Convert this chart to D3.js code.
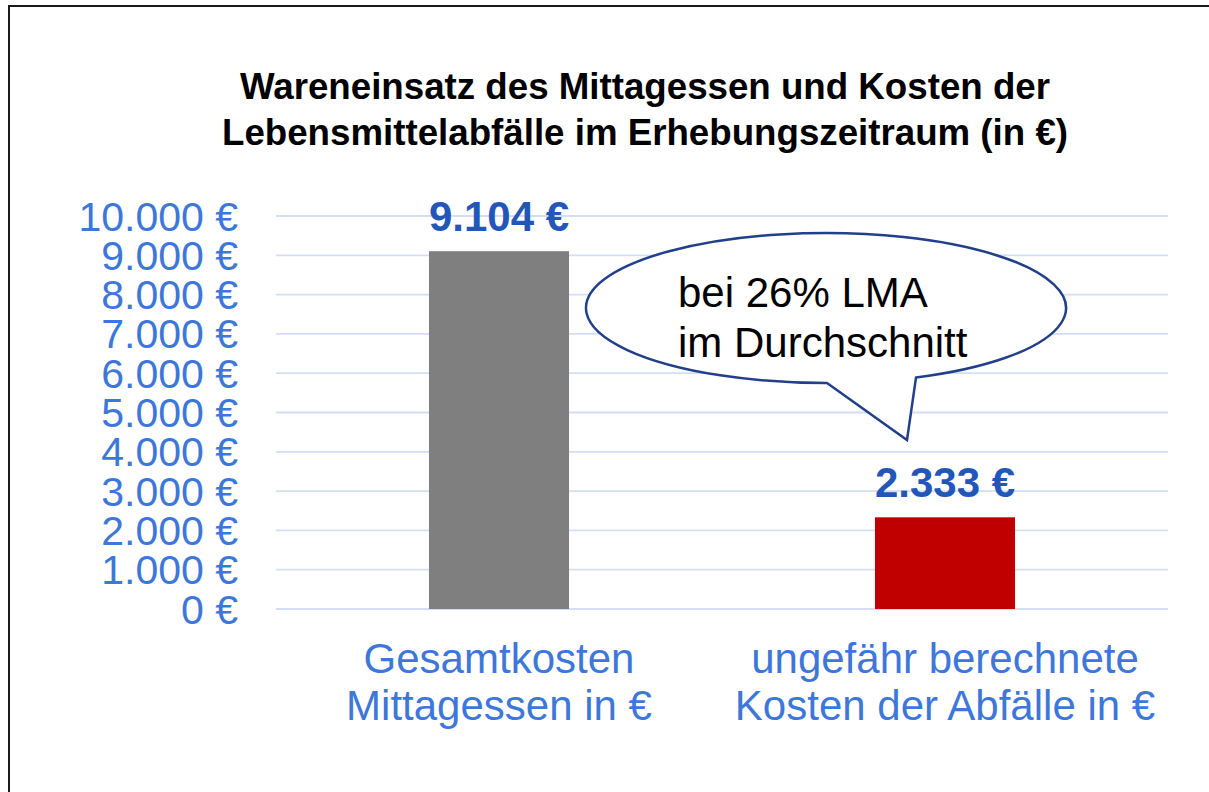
<!DOCTYPE html>
<html>
<head>
<meta charset="utf-8">
<script src="https://cdn.jsdelivr.net/npm/d3@7"></script>
<style>
  body { margin: 0; background: #fff; }
  text { font-family: "Liberation Sans", Arial, sans-serif; }
</style>
</head>
<body>
<div id="chart"></div>
<script>
// data
const categories = ["Gesamtkosten Mittagessen in €", "ungefähr berechnete Kosten der Abfälle in €"];
const categoryLines = [["Gesamtkosten", "Mittagessen in €"], ["ungefähr berechnete", "Kosten der Abfälle in €"]];
const values = [9104, 2333];
const barColors = ["#7f7f7f", "#c00000"];
const yTicks = [0, 1000, 2000, 3000, 4000, 5000, 6000, 7000, 8000, 9000, 10000];
const titleLines = ["Wareneinsatz des Mittagessen und Kosten der", "Lebensmittelabfälle im Erhebungszeitraum (in €)"];
const calloutLines = ["bei 26% LMA", "im Durchschnitt"];

const width = 1209, height = 792;
const svg = d3.select("#chart").append("svg")
  .attr("width", width)
  .attr("height", height);

// frame around the chart
svg.append("rect")
  .attr("x", 9).attr("y", 6)
  .attr("width", 1300).attr("height", 900)
  .attr("fill", "none")
  .attr("stroke", "#1a1a1a")
  .attr("stroke-width", 2);

// scales
const x = d3.scaleBand().domain(categories).range([276, 1168]).padding(0);
const y = d3.scaleLinear().domain([0, 10000]).range([609, 216]);
const barW = x.bandwidth() * 0.314;

const fmt = v => d3.format(",")(v).replace(/,/g, ".") + " €";

// gridlines
svg.append("g")
  .selectAll("line")
  .data(yTicks)
  .join("line")
  .attr("x1", 276).attr("x2", 1168)
  .attr("y1", d => y(d)).attr("y2", d => y(d))
  .attr("stroke", "#d3ddf4")
  .attr("stroke-width", 1.8);

// y axis labels
const yAxis = d3.axisLeft(y).tickValues(yTicks).tickFormat(fmt).tickSize(0).tickPadding(0);
const yg = svg.append("g").attr("transform", "translate(238,0)").call(yAxis);
yg.select(".domain").remove();
yg.selectAll("text")
  .attr("font-family", "'Liberation Sans', Arial, sans-serif")
  .attr("font-size", 41)
  .attr("fill", "#3e77da")
  .attr("dy", 14);

// bars
svg.append("g")
  .selectAll("rect")
  .data(values)
  .join("rect")
  .attr("x", (d, i) => x(categories[i]) + x.bandwidth() / 2 - barW / 2)
  .attr("y", d => y(d))
  .attr("width", barW)
  .attr("height", d => y(0) - y(d))
  .attr("fill", (d, i) => barColors[i]);

// value labels
svg.append("g")
  .selectAll("text")
  .data(values)
  .join("text")
  .attr("x", (d, i) => x(categories[i]) + x.bandwidth() / 2)
  .attr("y", d => y(d) - 20)
  .attr("text-anchor", "middle")
  .attr("font-size", 42)
  .attr("font-weight", "bold")
  .attr("fill", "#2256b9")
  .text(d => fmt(d));

// category labels
categoryLines.forEach((lines, i) => {
  svg.append("text")
    .attr("x", x(categories[i]) + x.bandwidth() / 2)
    .attr("y", 673)
    .attr("text-anchor", "middle")
    .attr("font-size", 42)
    .attr("fill", "#3e77da")
    .selectAll("tspan")
    .data(lines)
    .join("tspan")
    .attr("x", x(categories[i]) + x.bandwidth() / 2)
    .attr("dy", (d, j) => j ? 47 : 0)
    .text(d => d);
});

// title
svg.append("text")
  .attr("x", 645)
  .attr("y", 99)
  .attr("text-anchor", "middle")
  .attr("font-size", 36.7)
  .attr("font-weight", "bold")
  .attr("fill", "#000")
  .selectAll("tspan")
  .data(titleLines)
  .join("tspan")
  .attr("x", 645)
  .attr("dy", (d, i) => i ? 46 : 0)
  .text(d => d);

// speech bubble
const cx = 826, cy = 308, rx = 240, ry = 75;
const onEllipse = px => [px, cy + ry * Math.sqrt(1 - ((px - cx) / rx) ** 2)];
const [bx, by] = onEllipse(827);
const [ax, ay] = onEllipse(916);
svg.append("path")
  .attr("d", `M ${bx} ${by} L 907 440 L ${ax} ${ay} A ${rx} ${ry} 0 1 0 ${bx} ${by} Z`)
  .attr("fill", "#fff")
  .attr("stroke", "#223f8a")
  .attr("stroke-width", 2.5);

svg.append("text")
  .attr("x", 678)
  .attr("y", 307)
  .attr("font-size", 42)
  .attr("fill", "#000")
  .selectAll("tspan")
  .data(calloutLines)
  .join("tspan")
  .attr("x", 678)
  .attr("dy", (d, i) => i ? 50 : 0)
  .text(d => d);
</script>
</body>
</html>
